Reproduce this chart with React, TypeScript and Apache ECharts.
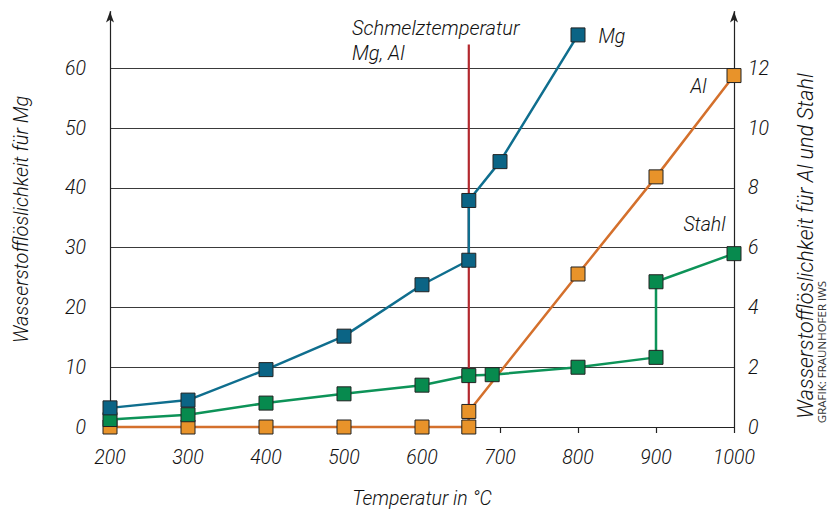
import React, { useEffect, useRef } from "react";
import * as echarts from "echarts";

// Temperature (°C) and hydrogen solubility values
const mgTemp = [200, 300, 400, 500, 600, 660, 660, 700, 800];
const mgSol = [3.2, 4.5, 9.6, 15.2, 23.8, 27.9, 37.9, 44.4, 65.6];

const alTemp = [200, 300, 400, 500, 600, 660, 660, 800, 900, 1000];
const alSol = [0, 0, 0, 0, 0, 0, 0.52, 5.12, 8.37, 11.76];

const stTemp = [200, 300, 400, 500, 600, 660, 690, 800, 900, 900, 1000];
const stSol = [0.25, 0.41, 0.8, 1.11, 1.4, 1.72, 1.75, 2.0, 2.33, 4.86, 5.8];

const meltTemp = 660;
const meltRange = [0, 64];

const xTicks = [200, 300, 400, 500, 600, 700, 800, 900, 1000];
const leftTicks = [0, 10, 20, 30, 40, 50, 60];
const rightTicks = [0, 2, 4, 6, 8, 10, 12];

const FONT = "Roboto, 'Liberation Sans', Arial, sans-serif";
const W = 300;

export default function App() {
  const ref = useRef<HTMLDivElement>(null);
  useEffect(() => {
    if (!ref.current) return;
    const chart = echarts.init(ref.current, null, { renderer: "svg" });
    const lastLabel = (xs: number[], ys: number[], name: string, label: any) =>
      xs.map((x, i) =>
        i === xs.length - 1 ? { value: [x, ys[i]], label: { show: true, formatter: name, ...label } } : [x, ys[i]]
      );
    const txt = { fontFamily: FONT, fontStyle: "italic", fontWeight: W, color: "#111" };
    const labelStyle = { ...txt, fontSize: 19.5 };
    const markerBorder = { borderColor: "#222", borderWidth: 1 };
    chart.setOption({
      animation: false,
      backgroundColor: "#ffffff",
      textStyle: { fontFamily: FONT },
      grid: { left: 110, right: 96, top: 11.6, bottom: 79.7, containLabel: false },
      xAxis: {
        type: "value",
        min: xTicks[0],
        max: xTicks[xTicks.length - 1],
        interval: 100,
        name: "Temperatur in °C",
        nameLocation: "middle",
        nameGap: 61,
        nameTextStyle: { ...txt, fontSize: 19.5 },
        axisLine: { lineStyle: { color: "#222", width: 1.2 } },
        axisTick: { show: true, inside: false, length: 6, lineStyle: { color: "#222", width: 1.2 } },
        axisLabel: {
          ...txt,
          fontSize: 19.5,
          margin: 20,
          formatter: (v: number) => (xTicks.includes(v) ? String(v) : ""),
        },
        splitLine: { show: false },
      },
      yAxis: [
        {
          type: "value",
          position: "left",
          min: 0,
          max: 69.5,
          interval: 10,
          name: "Wasserstofflöslichkeit für Mg",
          nameLocation: "middle",
          nameRotate: 90,
          nameGap: 79,
          nameTextStyle: { ...txt, fontSize: 20 },
          axisLine: { show: true, symbol: ["none", "arrow"], symbolSize: [6, 11], lineStyle: { color: "#222", width: 1.2 } },
          axisTick: { show: false },
          axisLabel: {
            ...txt,
            fontSize: 19.5,
            margin: 24,
            showMaxLabel: false,
            formatter: (v: number) => (leftTicks.includes(v) ? String(v) : ""),
          },
          splitLine: { show: true, showMinLine: false, showMaxLine: false, lineStyle: { color: "#3a3a3a", width: 1 } },
        },
        {
          type: "value",
          position: "right",
          min: 0,
          max: 13.9,
          interval: 2,
          axisLine: { show: true, symbol: ["none", "arrow"], symbolSize: [6, 11], lineStyle: { color: "#222", width: 1.2 } },
          axisTick: { show: false },
          axisLabel: {
            ...txt,
            fontSize: 19.5,
            margin: 14,
            showMaxLabel: false,
            formatter: (v: number) => (rightTicks.includes(v) ? String(v) : ""),
          },
          splitLine: { show: false },
        },
      ],
      graphic: [
        {
          type: "text",
          left: 352,
          top: 15,
          style: {
            text: "Schmelztemperatur\nMg, Al",
            fontFamily: FONT,
            fontStyle: "italic",
            fontWeight: W,
            fontSize: 20,
            lineHeight: 25,
            fill: "#111",
          },
        },
        {
          type: "text",
          x: 805,
          y: 246,
          rotation: Math.PI / 2,
          style: {
            text: "Wasserstofflöslichkeit für Al und Stahl",
            fontFamily: FONT,
            fontStyle: "italic",
            fontWeight: W,
            fontSize: 21.5,
            fill: "#111",
            align: "center",
            verticalAlign: "middle",
          },
        },
        {
          type: "text",
          x: 821,
          y: 352,
          rotation: Math.PI / 2,
          style: {
            text: "GRAFIK: FRAUNHOFER IWS",
            fontFamily: "'Open Sans', 'Liberation Sans', sans-serif",
            fontSize: 11.5,
            fill: "#333",
            align: "center",
            verticalAlign: "middle",
          },
        },
      ],
      series: [
        {
          name: "Schmelztemperatur",
          type: "line",
          yAxisIndex: 0,
          data: meltRange.map((v) => [meltTemp, v]),
          showSymbol: false,
          symbol: "none",
          lineStyle: { color: "#b3282e", width: 2.2 },
          z: 1,
          silent: true,
        },
        {
          name: "Al",
          type: "line",
          yAxisIndex: 1,
          data: lastLabel(alTemp, alSol, "Al", { ...labelStyle, position: "left", distance: 20, offset: [0, 11] }),
          symbol: "rect",
          symbolSize: 14,
          showAllSymbol: true,
          clip: false,
          lineStyle: { color: "#d4702c", width: 2.5 },
          itemStyle: { color: "#e8932a", ...markerBorder },
          z: 2,
        },
        {
          name: "Stahl",
          type: "line",
          yAxisIndex: 1,
          data: lastLabel(stTemp, stSol, "Stahl", { ...labelStyle, position: "left", distance: 1, offset: [0, -29] }),
          symbol: "rect",
          symbolSize: 14,
          showAllSymbol: true,
          clip: false,
          lineStyle: { color: "#0d9358", width: 2.5 },
          itemStyle: { color: "#078a4e", ...markerBorder },
          z: 3,
        },
        {
          name: "Mg",
          type: "line",
          yAxisIndex: 0,
          data: lastLabel(mgTemp, mgSol, "Mg", { ...labelStyle, position: "right", distance: 13, offset: [0, 2] }),
          symbol: "rect",
          symbolSize: 14,
          showAllSymbol: true,
          clip: false,
          lineStyle: { color: "#0f6e8e", width: 2.5 },
          itemStyle: { color: "#0b6485", ...markerBorder },
          z: 4,
        },
      ],
    });
    return () => chart.dispose();
  }, []);
  return <div ref={ref} style={{ width: 830, height: 513, position: "absolute", left: 0, top: 0 }} />;
}
